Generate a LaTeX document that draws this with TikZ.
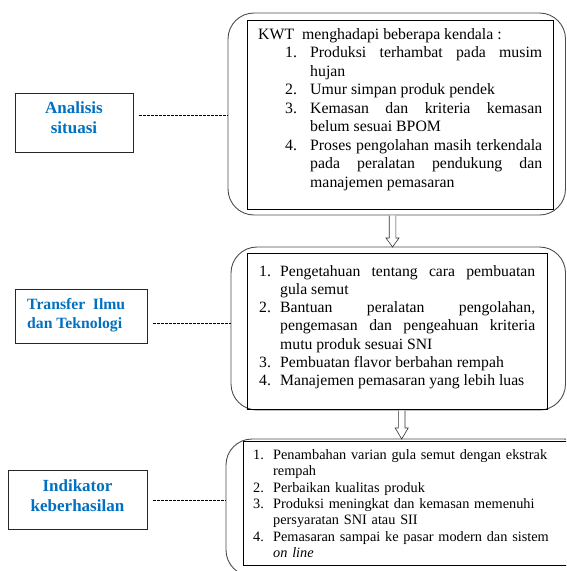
\documentclass[tikz,border=0pt]{standalone}
\usepackage{fontspec}
\setmainfont{Liberation Serif}
\usetikzlibrary{calc}
\definecolor{lblue}{RGB}{0,112,192}
\newcommand{\myfirstitem}[3]{\hangindent=\dimexpr#1+#2\relax\hangafter=1\hspace*{#1}\makebox[#2][l]{#3}}
\newcommand{\myitem}[3]{\par\noindent\myfirstitem{#1}{#2}{#3}}
\newcommand{\mysetup}{\tolerance=10000\hbadness=10000\hyphenpenalty=10000\exhyphenpenalty=10000\parindent=0pt\relax}
\begin{document}
\begin{tikzpicture}[x=1pt,y=-1pt,
  rbox/.style={draw=black!70, line width=0.9pt, rounded corners=26pt, inner sep=0pt, outer sep=0pt, anchor=north west},
  ibox/.style={draw=black, line width=0.8pt, inner sep=0pt, outer sep=0pt, anchor=north west},
  lbox/.style={draw=black!85, line width=1pt, inner sep=0pt, outer sep=0pt, anchor=north west},
  ltext/.style={text=lblue, inner sep=0pt, font=\fontsize{17}{20}\selectfont\bfseries, align=center},
  btext/.style={anchor=base west, inner sep=0pt},
  dline/.style={dash pattern=on 2.5pt off 1.5pt, line width=0.6pt, shorten <=6pt},
  harrow/.style={draw=black!80, line width=0.6pt, fill=white}
]
\useasboundingbox (0,0) rectangle (566,571);
\clip (0,0) rectangle (566,571);

% ---------- main boxes
\node[rbox, minimum width=337.5pt, minimum height=202pt] (r1) at (228,13) {};
\node[rbox, minimum width=334.5pt, minimum height=163pt] (r2) at (231,247) {};
\node[rbox, minimum width=364pt, minimum height=137pt] (r3) at (226,439) {};

% ---------- arrows between boxes
\coordinate (a1s) at (392.5,0 |- r1.south);
\coordinate (a1e) at (392.5,0 |- r2.north);
\coordinate (a2s) at (401.7,0 |- r2.south);
\coordinate (a2e) at (401.7,0 |- r3.north);
\draw[harrow] ($(a1s)+(-3.3,0.5)$) -- ($(a1e)+(-3.3,-9)$) -- ($(a1e)+(-6.5,-9)$) -- (a1e)
   -- ($(a1e)+(6.5,-9)$) -- ($(a1e)+(3.3,-9)$) -- ($(a1s)+(3.3,0.5)$);
\draw[harrow] ($(a2s)+(-3.3,0.5)$) -- ($(a2e)+(-3.3,-11)$) -- ($(a2e)+(-6.5,-11)$) -- (a2e)
   -- ($(a2e)+(6.5,-11)$) -- ($(a2e)+(3.3,-11)$) -- ($(a2s)+(3.3,0.5)$);

\node[ibox, minimum width=306pt, minimum height=189pt] (i1) at (247,20) {};
\node[ibox, minimum width=300pt, minimum height=156pt] (i2) at (247,253) {};
\node[ibox, minimum width=337pt, minimum height=124pt] (i3) at (243,441) {};

% ---------- texts in the main boxes
\node[btext, text width=284pt, align=justify, font=\fontsize{15.8}{18.5}\selectfont] (t1) at (258,39) {\mysetup
KWT~~menghadapi beberapa kendala :
\myitem{27pt}{25pt}{1.}Produksi terhambat pada musim\linebreak hujan
\myitem{27pt}{25pt}{2.}Umur simpan produk pendek
\myitem{27pt}{25pt}{3.}Kemasan dan kriteria kemasan\linebreak belum sesuai BPOM
\myitem{27pt}{25pt}{4.}Proses pengolahan masih terkendala\linebreak pada peralatan pendukung dan\linebreak manajemen pemasaran\par};

\node[btext, text width=276pt, align=justify, font=\fontsize{15.7}{18.3}\selectfont] (t2) at (259,276) {\mysetup
\myfirstitem{0pt}{21pt}{1.}Pengetahuan tentang cara pembuatan\linebreak gula semut
\myitem{0pt}{21pt}{2.}Bantuan peralatan pengolahan,\linebreak pengemasan dan pengeahuan kriteria\linebreak mutu produk sesuai SNI
\myitem{0pt}{21pt}{3.}Pembuatan flavor berbahan rempah
\myitem{0pt}{21pt}{4.}Manajemen pemasaran yang lebih luas\par};

\node[btext, text width=300pt, align=left, font=\fontsize{14.3}{16.3}\selectfont] (t3) at (253,459.5) {\mysetup
\myfirstitem{0pt}{20pt}{1.}Penambahan varian gula semut dengan ekstrak\linebreak rempah
\myitem{0pt}{20pt}{2.}Perbaikan kualitas produk
\myitem{0pt}{20pt}{3.}Produksi meningkat dan kemasan memenuhi\linebreak persyaratan SNI atau SII
\myitem{0pt}{20pt}{4.}Pemasaran sampai ke pasar modern dan sistem\linebreak \textit{on line}\par};

% ---------- left label boxes
\node[lbox, minimum width=118pt, minimum height=59pt] (l1) at (15,93) {};
\node[ltext] (lt1) at (74,118) {Analisis\\situasi};

\node[lbox, minimum width=132pt, minimum height=54pt] (l2) at (15,289) {};
\node[btext, text=lblue, text width=98pt, align=justify, font=\fontsize{15.7}{19}\selectfont\bfseries] (lt2) at (27,309) {\mysetup Transfer~~Ilmu\linebreak dan Teknologi\par};

\node[lbox, minimum width=139pt, minimum height=59pt] (l3) at (8,470) {};
\node[ltext] (lt3) at (77.5,496) {Indikator\\keberhasilan};

% ---------- dashed connectors
\coordinate (y1) at (0,115);
\coordinate (y2) at (0,323);
\coordinate (y3) at (0,500);
\draw[dline] (l1.east |- y1) -- (r1.west |- y1);
\draw[dline] (l2.east |- y2) -- (r2.west |- y2);
\draw[dline] (l3.east |- y3) -- (r3.west |- y3);
\end{tikzpicture}
\end{document}
